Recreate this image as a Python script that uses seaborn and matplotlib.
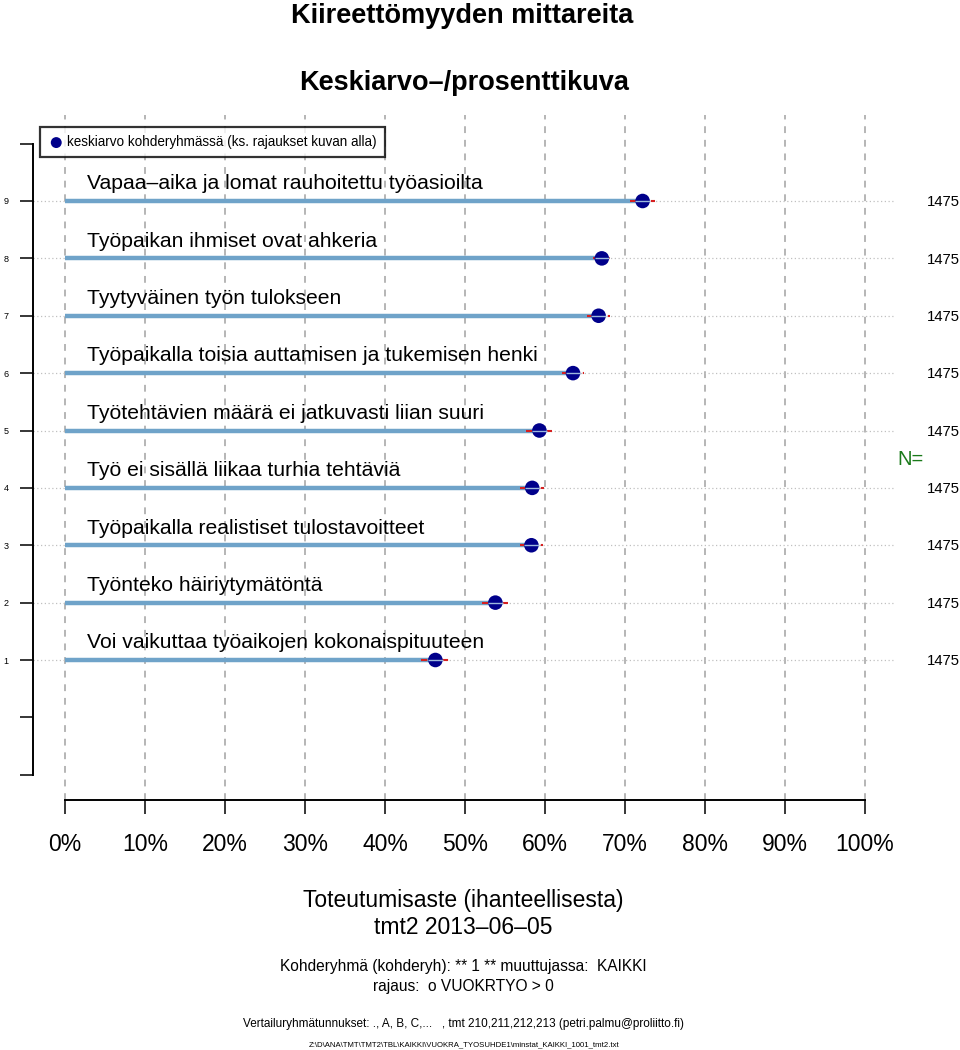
import matplotlib
matplotlib.use("Agg")
import matplotlib.pyplot as plt
import seaborn as sns
import numpy as np
import pandas as pd

# ---- data ----
items = [
    "Voi vaikuttaa työaikojen kokonaispituuteen",
    "Työnteko häiriytymätöntä",
    "Työpaikalla realistiset tulostavoitteet",
    "Työ ei sisällä liikaa turhia tehtäviä",
    "Työtehtävien määrä ei jatkuvasti liian suuri",
    "Työpaikalla toisia auttamisen ja tukemisen henki",
    "Tyytyväinen työn tulokseen",
    "Työpaikan ihmiset ovat ahkeria",
    "Vapaa\u2013aika ja lomat rauhoitettu työasioilta",
]
positions = [1, 2, 3, 4, 5, 6, 7, 8, 9]
means = [46.3, 53.8, 58.3, 58.4, 59.3, 63.5, 66.7, 67.1, 72.2]
ci_low = [44.5, 52.1, 56.9, 56.9, 57.6, 62.1, 65.3, 66.0, 70.6]
ci_high = [48.0, 55.4, 59.7, 59.9, 60.9, 64.9, 68.1, 68.1, 73.7]
n_values = [1475, 1475, 1475, 1475, 1475, 1475, 1475, 1475, 1475]
x_ticks = [0, 10, 20, 30, 40, 50, 60, 70, 80, 90, 100]
x_ticklabels = [f"{v}%" for v in x_ticks]
y_ticks = list(range(-1, 11))
y_ticklabels = ["" if (t < 1 or t > 9) else str(t) for t in y_ticks]

df = pd.DataFrame({"pos": positions, "mean": means, "lo": ci_low, "hi": ci_high,
                   "item": items, "n": n_values})

sns.set_theme(style="white")
plt.rcParams["font.family"] = ["Liberation Sans", "DejaVu Sans"]
plt.rcParams["text.color"] = "black"
plt.rcParams["xtick.color"] = "black"
plt.rcParams["ytick.color"] = "black"
plt.rcParams["axes.labelcolor"] = "black"

W, H = 960, 1050
fig = plt.figure(figsize=(W / 100, H / 100), dpi=100)
ax_left, ax_right, ax_top, ax_bot = 33, 960, 115, 800
ax = fig.add_axes([ax_left / W, 1 - ax_bot / H, (ax_right - ax_left) / W, (ax_bot - ax_top) / H])

xmin = -4
xmax = xmin + (ax_right - ax_left) / 8.0
ymin = 1 - (ax_bot - 660) / 57.375
ymax = 9 + (201 - ax_top) / 57.375
ax.set_xlim(xmin, xmax)
ax.set_ylim(ymin, ymax)

# vertical dashed grid
for xv in x_ticks:
    ax.axvline(xv, color="#b5b5b5", lw=1.4, ls=(0, (3.5, 3.5)), zorder=1)

# horizontal dotted lines
ax.hlines(df["pos"], xmin, 103.75, colors="#c0c0c0", lw=0.9, linestyles=(0, (1, 2)), zorder=1)

# bars
ax.hlines(df["pos"], 0, df["mean"], colors="#6fa3c9", lw=3.2, zorder=3)

# CI red dashed
ax.hlines(df["pos"], df["lo"], df["hi"], colors="#d62020", lw=1.5, linestyles=(0, (3, 2)), zorder=4)

# mean points
sns.scatterplot(data=df, x="mean", y="pos", color="#00008b", s=110, edgecolor="none",
                zorder=5, ax=ax, label="keskiarvo kohderyhmässä (ks. rajaukset kuvan alla)")
ax.hlines(df["pos"], df["mean"] - 0.9, df["mean"] + 0.9, colors="#9db8dd", lw=1.0, zorder=6)

# item labels
for p, t in zip(df["pos"], df["item"]):
    ax.text(2.75, p + 0.3, t, ha="left", va="center", fontsize=15.2, color="black", zorder=6)

# N labels
for p, n in zip(df["pos"], df["n"]):
    ax.text(xmax, p - 0.02, str(n), ha="right", va="center", fontsize=10.7, color="black")
ax.text(105.75, 4.49, "N=", ha="center", va="center", fontsize=14.5, color="#1a7a1a")

# axes styling
for s in ["top", "right"]:
    ax.spines[s].set_visible(False)
ax.spines["left"].set_bounds(-1, 10)
ax.spines["bottom"].set_bounds(0, 100)
ax.spines["left"].set_linewidth(1.4)
ax.spines["bottom"].set_linewidth(1.4)
ax.spines["left"].set_color("black")
ax.spines["bottom"].set_color("black")
ax.set_yticks(y_ticks)
ax.set_yticklabels(y_ticklabels, fontsize=6.5)
ax.set_xticks(x_ticks)
ax.set_xticklabels(x_ticklabels, fontsize=16.5)
ax.tick_params(axis="y", direction="out", length=9.5, width=1.1, pad=8, colors="black", left=True)
ax.tick_params(axis="x", direction="out", length=10, width=1.1, pad=14, colors="black", bottom=True)
ax.set_xlabel("")
ax.set_ylabel("")

leg = ax.legend(loc="upper left", bbox_to_anchor=(7 / (ax_right - ax_left), 1 - 12 / (ax_bot - ax_top)),
                borderaxespad=0, frameon=True, fancybox=False, fontsize=9.75, handletextpad=0.2,
                borderpad=0.6, markerscale=0.75, handlelength=1.2)
leg.get_frame().set_edgecolor("black")
leg.get_frame().set_linewidth(1.6)
leg.set_zorder(10)

# titles and footer texts
fig.text(0.481, 1 - 16 / H, "Kiireettömyyden mittareita", ha="center", va="center", fontsize=19.5, fontweight="bold")
fig.text(0.483, 1 - 83 / H, "Keskiarvo\u2013/prosenttikuva", ha="center", va="center", fontsize=19.5, fontweight="bold")
fig.text(0.483, 1 - 900 / H, "Toteutumisaste (ihanteellisesta)", ha="center", va="center", fontsize=16.5)
fig.text(0.483, 1 - 928 / H, "tmt2 2013\u201306\u201305", ha="center", va="center", fontsize=16.5)
fig.text(0.483, 1 - 967 / H, "Kohderyhmä (kohderyh): ** 1 ** muuttujassa:  KAIKKI", ha="center", va="center", fontsize=11.2)
fig.text(0.483, 1 - 987 / H, "rajaus:  o VUOKRTYO > 0", ha="center", va="center", fontsize=11.2)
fig.text(0.483, 1 - 1024 / H, "Vertailuryhmätunnukset: ., A, B, C,...   , tmt 210,211,212,213 (petri.palmu@proliitto.fi)",
         ha="center", va="center", fontsize=8.45)
fig.text(0.483, 1 - 1045 / H, "Z:\\D\\ANA\\TMT\\TMT2\\TBL\\KAIKKI\\VUOKRA_TYOSUHDE1\\minstat_KAIKKI_1001_tmt2.txt",
         ha="center", va="center", fontsize=5.6)

fig.savefig("out.png", dpi=100)
